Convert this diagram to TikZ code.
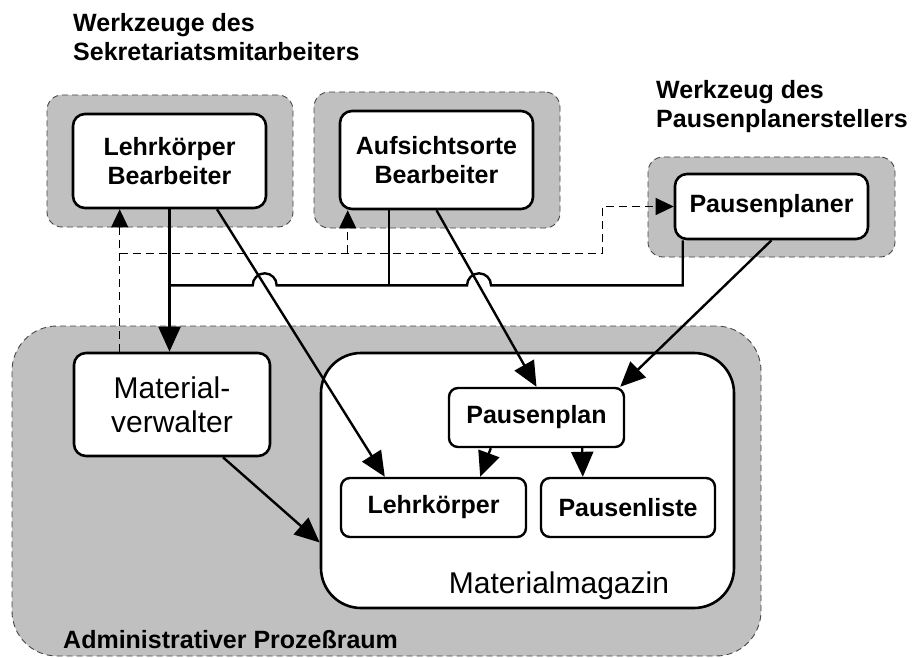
\documentclass[tikz,border=0pt]{standalone}
\usepackage{fontspec}
\setmainfont{Liberation Sans}
\usetikzlibrary{arrows.meta}

\definecolor{regiongray}{RGB}{192,192,192}
\definecolor{regionedge}{RGB}{70,70,70}

\newcommand{\boldtext}{\fontsize{25}{29}\selectfont\bfseries}
\newcommand{\plaintext}{\fontsize{30}{34}\selectfont}

\tikzset{
  region/.style={fill=regiongray, draw=regionedge, line width=0.9pt,
    dash pattern=on 6pt off 4pt, rounded corners=15pt},
  toolbox/.style={draw, fill=white, line width=2.6pt, rounded corners=12pt,
    inner sep=0pt, align=center, font=\boldtext},
  itembox/.style={draw, fill=white, line width=2.4pt, rounded corners=9pt,
    inner sep=0pt, align=center, font=\boldtext},
  title/.style={inner sep=0pt, align=left, font=\boldtext},
  bigtip/.tip={Triangle[length=25pt,width=22pt]},
  smalltip/.tip={Triangle[length=18pt,width=17pt]},
  flow/.style={line width=2.4pt, -bigtip},
  link/.style={line width=2.4pt},
  useflow/.style={line width=1pt, dash pattern=on 8pt off 5pt, -smalltip},
}

\begin{document}
\begin{tikzpicture}[x=1pt,y=-1pt]
\useasboundingbox (0,0) rectangle (919,658);

% shaded regions
\node[region, minimum width=246pt, minimum height=132pt] (sekr) at (170,161) {};
\node[region, minimum width=246pt, minimum height=136pt] (aufr) at (437,160) {};
\node[region, minimum width=247pt, minimum height=100pt] (pausr) at (771.5,207) {};
\node[region, rounded corners=45pt, minimum width=749pt, minimum height=330pt] (admr) at (386.5,491) {};

% titles
\node[title, anchor=north west] (sektitle) at (73,13.5) {Werkzeuge des\\Sekretariatsmitarbeiters};
\node[title, anchor=north west] (pausetitle) at (656,80) {Werkzeug des\\Pausenplanerstellers};
\node[title, anchor=base west] (admtitle) at (63,648) {Administrativer Prozeßraum};

% tools
\node[toolbox, minimum width=193pt, minimum height=94pt] (lb) at (169.5,161) {Lehrkörper\\Bearbeiter};
\node[toolbox, minimum width=193pt, minimum height=98pt] (ab) at (436.5,160) {Aufsichtsorte\\Bearbeiter};
\node[toolbox, minimum width=193pt, minimum height=65pt] (pp) at (771.5,206.5) {Pausenplaner};

% administrative space
\node[toolbox, font=\plaintext, minimum width=196pt, minimum height=103pt] (mv) at (172,404.5) {Material-\\verwalter};
\node[toolbox, rounded corners=40pt, minimum width=413pt, minimum height=255pt] (mm) at (527.5,480.5) {};
\node[anchor=base, font=\plaintext, inner sep=0pt] (mmlabel) at (559,593) {Materialmagazin};
\node[itembox, minimum width=175pt, minimum height=59pt] (plan) at (536.5,417.5) {Pausenplan};
\node[itembox, minimum width=185pt, minimum height=59pt] (lk) at (433.5,507.5) {Lehrkörper};
\node[itembox, minimum width=174pt, minimum height=59pt] (pl) at (628,507.5) {Pausenliste};

% helper points
\coordinate (lbA) at ([xshift=47.5pt]lb.south);
\coordinate (lkA) at ([xshift=45pt]lk.north west);
\coordinate (busL) at ([yshift=-76pt]lb.south);
\coordinate (ppS) at ([xshift=9pt]pp.south west);
\coordinate (busR) at (busL -| ppS);
\coordinate (abS) at ([xshift=-47.5pt]ab.south);
\coordinate (j1) at (intersection of lbA--lkA and busL--busR);
\coordinate (j2) at (intersection of ab.south--plan.north and busL--busR);

% solid connectors
\draw[flow] (lb.south) -- (lb.south |- mv.north);
\draw[link] (ppS) -- (busR) -- ([xshift=12pt]j2)
  arc[start angle=0, end angle=180, radius=12pt] -- ([xshift=12pt]j1)
  arc[start angle=0, end angle=180, radius=12pt] -- (busL);
\draw[link] (abS) -- (abS |- busL);
\draw[flow] (lbA) -- (lkA);
\draw[flow] (ab.south) -- (plan.north);
\draw[flow] (pp.south) -- ([xshift=-5pt]plan.north east);
\draw[flow] ([xshift=51pt]mv.south) -- ([yshift=-62pt]mm.west);
\draw[flow] ([xshift=43pt]plan.south west) -- ([xshift=-47pt]lk.north east);
\draw[flow] ([xshift=-43pt]plan.south east) -- ([xshift=43pt]pl.north west);

% dashed use relations
\coordinate (mvD) at ([xshift=47pt]mv.north west);
\coordinate (lbDrop) at ([yshift=-44pt]lb.south);
\coordinate (dbus) at (lbDrop -| mvD);
\coordinate (abD) at ([xshift=9pt]ab.south west);
\coordinate (turn) at ([xshift=-71pt]pp.west);
\draw[useflow] (mvD) -- (mvD |- lb.south);
\draw[useflow] (dbus) -- (dbus -| turn) |- (pp.west);
\draw[useflow] (dbus -| abD) -- (abD);
\end{tikzpicture}
\end{document}
